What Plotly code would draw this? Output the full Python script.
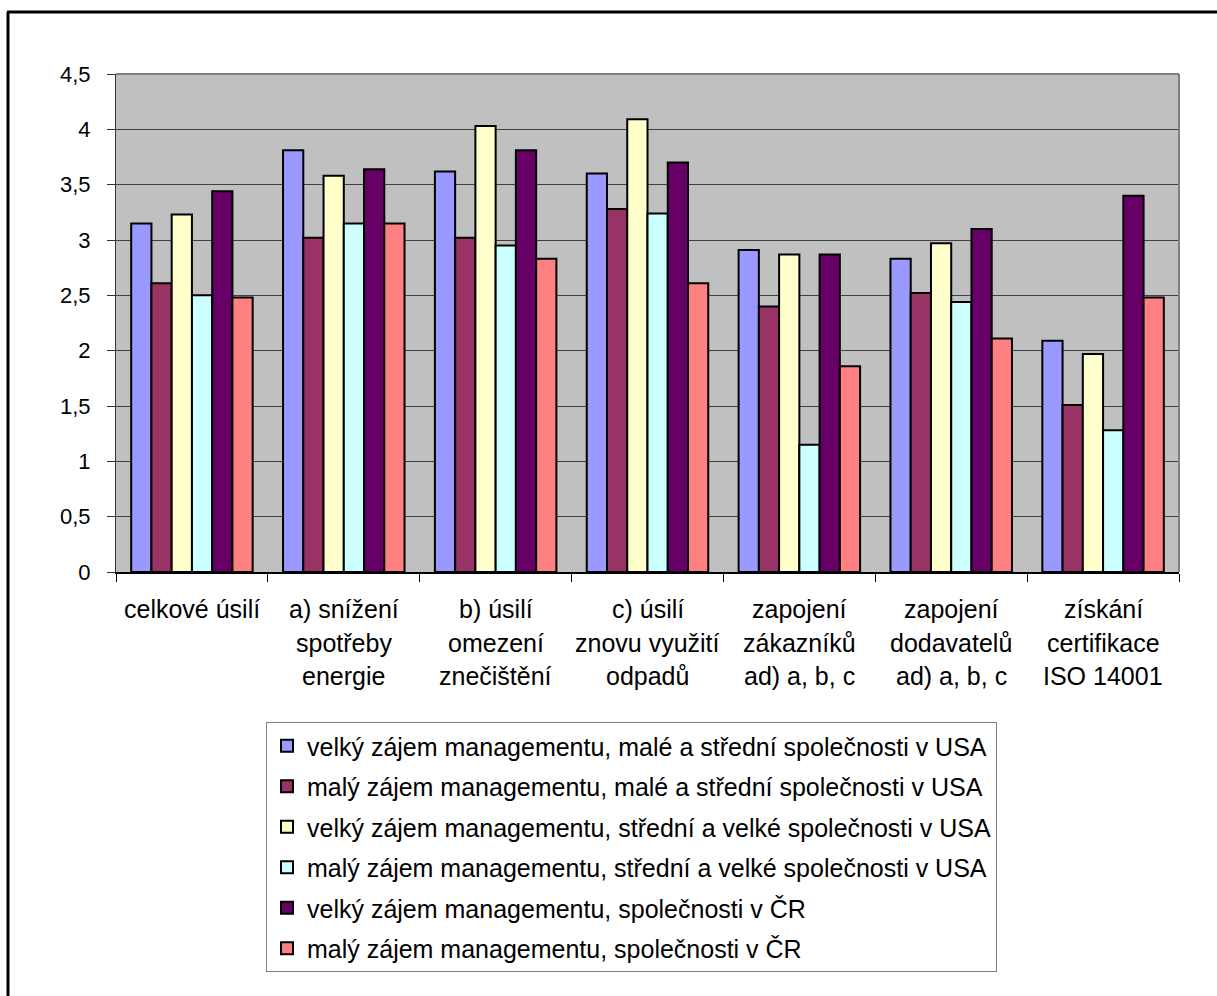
import plotly.graph_objects as go

# Categories (multi-line labels) and series values
categories = [
    "celkové úsilí",
    "a) snížení spotřeby energie",
    "b) úsilí omezení znečištění",
    "c) úsilí znovu využití odpadů",
    "zapojení zákazníků ad) a, b, c",
    "zapojení dodavatelů ad) a, b, c",
    "získání certifikace ISO 14001",
]
label_lines = [
    ["celkové úsilí"],
    ["a) snížení", "spotřeby", "energie"],
    ["b) úsilí", "omezení", "znečištění"],
    ["c) úsilí", "znovu využití", "odpadů"],
    ["zapojení", "zákazníků", "ad) a, b, c"],
    ["zapojení", "dodavatelů", "ad) a, b, c"],
    ["získání", "certifikace", "ISO 14001"],
]

series_names = [
    "velký zájem managementu, malé a střední společnosti v USA",
    "malý zájem managementu, malé a střední společnosti v USA",
    "velký zájem managementu, střední a velké společnosti v USA",
    "malý zájem managementu, střední a velké společnosti v USA",
    "velký zájem managementu, společnosti v ČR",
    "malý zájem managementu, společnosti v ČR",
]
velky_male_stredni_usa = [3.15, 3.81, 3.62, 3.60, 2.91, 2.83, 2.09]
maly_male_stredni_usa = [2.61, 3.02, 3.02, 3.28, 2.40, 2.52, 1.51]
velky_stredni_velke_usa = [3.23, 3.58, 4.03, 4.09, 2.87, 2.97, 1.97]
maly_stredni_velke_usa = [2.50, 3.15, 2.95, 3.24, 1.15, 2.44, 1.28]
velky_cr = [3.44, 3.64, 3.81, 3.70, 2.87, 3.10, 3.40]
maly_cr = [2.48, 3.15, 2.83, 2.61, 1.86, 2.11, 2.48]

series_values = [
    velky_male_stredni_usa,
    maly_male_stredni_usa,
    velky_stredni_velke_usa,
    maly_stredni_velke_usa,
    velky_cr,
    maly_cr,
]
colors = ["#9999FF", "#993366", "#FFFFCC", "#CCFFFF", "#660066", "#FF8080"]

y_ticks = [0, 0.5, 1, 1.5, 2, 2.5, 3, 3.5, 4, 4.5]
y_tick_text = ["0", "0,5", "1", "1,5", "2", "2,5", "3", "3,5", "4", "4,5"]

W, H = 1217, 996
L, R, T, B = 116, 1179, 74, 572   # plot area edges in pixels


def px_x(x):
    return (x - L) / (R - L)


def px_y(y):
    return (B - y) / (B - T)


FONT = "Liberation Sans"

fig = go.Figure()
for i, (name, vals, col) in enumerate(zip(series_names, series_values, colors)):
    fig.add_trace(go.Bar(
        x=categories, y=vals, name=name, legendgroup=f"g{i}",
        marker=dict(color=col, line=dict(color="black", width=2)),
    ))

# multi-line category labels under the axis
annotations = []
line_y = [609, 643, 676]
for cat, lines in zip(categories, label_lines):
    for j, txt in enumerate(lines):
        annotations.append(dict(
            x=cat, xref="x", y=px_y(line_y[j]), yref="paper",
            text=txt, showarrow=False, xanchor="center", yanchor="middle",
            font=dict(family=FONT, size=25, color="black"),
        ))

shapes = [
    # page frame (left and top edges)
    dict(type="line", xref="paper", yref="paper",
         x0=px_x(8), x1=px_x(8), y0=px_y(12), y1=px_y(1000),
         line=dict(color="black", width=3)),
    dict(type="line", xref="paper", yref="paper",
         x0=px_x(7), x1=px_x(1220), y0=px_y(12), y1=px_y(12),
         line=dict(color="black", width=3)),
    # plot area outline (top/right)
    dict(type="line", xref="paper", yref="paper",
         x0=0, x1=1, y0=1, y1=1, line=dict(color="#808080", width=2)),
    dict(type="line", xref="paper", yref="paper",
         x0=1, x1=1, y0=0, y1=1, line=dict(color="#808080", width=2)),
]

fig.update_layout(
    width=W, height=H,
    margin=dict(l=L, r=W - R, t=T, b=H - B, pad=0),
    paper_bgcolor="white", plot_bgcolor="#C0C0C0",
    barmode="group", bargap=0.2, bargroupgap=0,
    font=dict(family=FONT, size=22, color="black"),
    showlegend=True,
    legend=dict(
        x=px_x(266), y=px_y(722), xanchor="left", yanchor="top",
        bgcolor="white", bordercolor="#808080", borderwidth=1,
        font=dict(family=FONT, size=25, color="black"),
        tracegroupgap=5, traceorder="grouped",
        itemwidth=30,
    ),
    annotations=annotations,
    shapes=shapes,
)
fig.update_xaxes(
    type="category", showticklabels=False, tickson="boundaries",
    ticks="outside", ticklen=8, tickcolor="black", tickwidth=1,
    showline=True, linecolor="black", linewidth=2, showgrid=False,
)
fig.update_yaxes(
    range=[0, 4.5], tickvals=y_ticks, ticktext=y_tick_text,
    ticks="outside", ticklen=8, tickcolor="#333333", tickwidth=1,
    showline=True, linecolor="#333333", linewidth=1,
    showgrid=True, gridcolor="#404040", gridwidth=1,
    zeroline=False, ticklabelstandoff=12,
    tickfont=dict(family=FONT, size=22, color="black"),
)

fig.write_html("out.html")
